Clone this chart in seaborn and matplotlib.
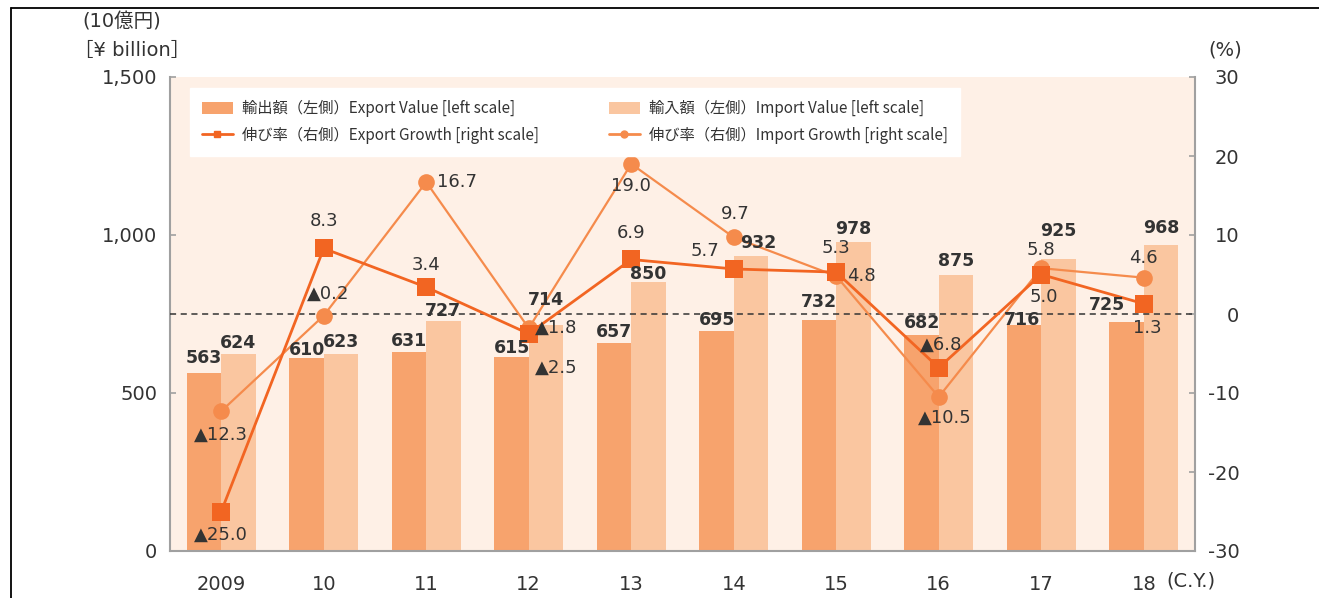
import numpy as np
import pandas as pd
import matplotlib
matplotlib.use('Agg')
import matplotlib.pyplot as plt
from matplotlib.lines import Line2D
from matplotlib.patches import Patch
import seaborn as sns

# data
years = ['2009', '10', '11', '12', '13', '14', '15', '16', '17', '18']
export_value = [563, 610, 631, 615, 657, 695, 732, 682, 716, 725]
import_value = [624, 623, 727, 714, 850, 932, 978, 875, 925, 968]
export_growth = [-25.0, 8.3, 3.4, -2.5, 6.9, 5.7, 5.3, -6.8, 5.0, 1.3]
import_growth = [-12.3, -0.2, 16.7, -1.8, 19.0, 9.7, 4.8, -10.5, 5.8, 4.6]

lbl_exp_val = '輸出額（左側）Export Value [left scale]'
lbl_imp_val = '輸入額（左側）Import Value [left scale]'
lbl_exp_gr = '伸び率（右側）Export Growth [right scale]'
lbl_imp_gr = '伸び率（右側）Import Growth [right scale]'

# label offsets in pixels (dx, dy), as placed in the original
exp_val_offsets = [(0, 15), (0, 8), (0, 11), (0, 9), (0, 11), (0, 11), (0, 18), (0, 12), (-2, 5), (-20, 17)]
imp_val_offsets = [(0, 11), (0, 12), (0, 10), (0, 25), (0, 8), (7, 13), (0, 13), (0, 14), (0, 28), (0, 17)]
exp_offsets = [(0, -23), (0, 27), (0, 22), (28, -34), (0, 26), (-29, 18), (0, 24), (2, 23), (3, -22), (4, -24)]
imp_offsets = [(0, -24), (4, 22), (31, 0), (27, 0), (0, -22), (2, 23), (25, 0), (6, -21), (0, 18), (0, 20)]

C_EXP_BAR = '#F7A36D'
C_IMP_BAR = '#FAC6A0'
C_EXP_LINE = '#F26522'
C_IMP_LINE = '#F58B4C'
C_BG = '#FEF0E6'
C_TXT = '#333333'
C_SPINE = '#A0A0A0'

sns.set_theme(style='white')
plt.rcParams['font.family'] = ['DejaVu Sans', 'Noto Sans CJK JP']
plt.rcParams['text.color'] = C_TXT
plt.rcParams['axes.unicode_minus'] = False

W, H = 1319, 598
fig = plt.figure(figsize=(W / 100, H / 100), dpi=100)
fig.patch.set_facecolor('white')
ax = fig.add_axes([170 / W, 1 - 551 / H, (1195 - 170) / W, (551 - 77) / H])
ax.set_facecolor(C_BG)

df = pd.DataFrame({
    'year': years * 2,
    'kind': ['export'] * len(years) + ['import'] * len(years),
    'value': export_value + import_value,
})
sns.barplot(data=df, x='year', y='value', hue='kind', order=years,
            palette={'export': C_EXP_BAR, 'import': C_IMP_BAR},
            width=0.67, saturation=1, legend=False, linewidth=0, ax=ax)

ax.set_ylim(0, 1500)
ax.set_xlim(-0.5, len(years) - 0.5)
ax.set_yticks([0, 500, 1000, 1500])
ax.set_yticklabels(['0', '500', '1,000', '1,500'])
ax.set_xlabel('')
ax.set_ylabel('')
ax.set_xticks(np.arange(len(years)))
ax.set_xticklabels(years)
ax.set_xticks(np.arange(len(years) + 1) - 0.5, minor=True)
ax.tick_params(axis='x', which='major', length=0, pad=17, labelsize=14, labelcolor=C_TXT)
ax.tick_params(axis='x', which='minor', length=5, width=1.2, direction='out', color=C_SPINE)
ax.tick_params(axis='y', length=4, width=1.2, direction='in', color=C_SPINE, pad=9,
               labelsize=14, labelcolor=C_TXT, left=True)
for s in ['top', 'right']:
    ax.spines[s].set_visible(False)
for s in ['left', 'bottom']:
    ax.spines[s].set_color(C_SPINE)
    ax.spines[s].set_linewidth(1.5)

# growth lines on the right axis
ax2 = ax.twinx()
ax2.set_ylim(-30, 30)
ax2.axhline(0, color='#333333', ls=(0, (4, 3)), lw=1.1, zorder=1)
xpos = np.arange(len(years))
sns.lineplot(x=xpos, y=import_growth, color=C_IMP_LINE, lw=1.6, marker='o', ms=12,
             markeredgewidth=0, ax=ax2, zorder=3)
sns.lineplot(x=xpos, y=export_growth, color=C_EXP_LINE, lw=2.0, marker='s', ms=12.5,
             markeredgewidth=0, ax=ax2, zorder=4)

# bar value labels (drawn on the top axes so they sit above the lines)
for cont, vals, offs in zip(ax.containers, [export_value, import_value], [exp_val_offsets, imp_val_offsets]):
    for bar, v, (dx, dy) in zip(cont, vals, offs):
        ax2.annotate(f'{v:d}', (bar.get_x() + bar.get_width() / 2, bar.get_height()),
                     xycoords=ax.transData, xytext=(dx, dy), textcoords='offset pixels',
                     ha='center', va='center', fontsize=12.5, fontweight='bold', color=C_TXT, zorder=5)


def fmt_growth(v):
    return f'▲{abs(v):.1f}' if v < 0 else f'{v:.1f}'


for vals, offs in [(export_growth, exp_offsets), (import_growth, imp_offsets)]:
    for x, v, (dx, dy) in zip(xpos, vals, offs):
        ax2.annotate(fmt_growth(v), (x, v), xytext=(dx, dy), textcoords='offset pixels',
                     ha='center', va='center', fontsize=13, color=C_TXT, zorder=5)

ax2.set_yticks([-30, -20, -10, 0, 10, 20, 30])
ax2.tick_params(axis='y', length=4, width=1.2, direction='in', color=C_SPINE, pad=32,
                labelsize=14, labelcolor=C_TXT)
for lab in ax2.get_yticklabels():
    lab.set_horizontalalignment('right')
for s in ['top', 'left', 'bottom']:
    ax2.spines[s].set_visible(False)
ax2.spines['right'].set_color(C_SPINE)
ax2.spines['right'].set_linewidth(1.5)
ax2.set_ylabel('')

# legend
handles = [
    Patch(facecolor=C_EXP_BAR, edgecolor='none'),
    Line2D([], [], color=C_EXP_LINE, lw=2, marker='s', ms=5),
    Patch(facecolor=C_IMP_BAR, edgecolor='none'),
    Line2D([], [], color=C_IMP_LINE, lw=2, marker='o', ms=5),
]
labels = [lbl_exp_val, lbl_exp_gr, lbl_imp_val, lbl_imp_gr]
leg = ax2.legend(handles, labels, ncol=2, loc='upper left', bbox_to_anchor=(0.0195, 0.977),
                 borderaxespad=0, frameon=True, fancybox=False, facecolor='white', edgecolor='white',
                 framealpha=1, prop={'family': ['Noto Sans CJK JP'], 'size': 11},
                 handlelength=2.0, handleheight=0.8, handletextpad=0.6, columnspacing=4.6,
                 labelspacing=0.62, borderpad=0.8)
leg.set_zorder(10)
for t in leg.get_texts():
    t.set_color(C_TXT)

# axis unit texts
fig.text(82 / W, 1 - 22 / H, '(10億円)', ha='left', va='center', fontsize=14)
fig.text(74 / W, 1 - 50 / H, '［¥ billion］', ha='left', va='center', fontsize=14)
fig.text(1225 / W, 1 - 50 / H, '(%)', ha='center', va='center', fontsize=14)
fig.text(1166 / W, 1 - 581 / H, '(C.Y.)', ha='left', va='center', fontsize=14)

# outer frame (top and left only)
fig.add_artist(Line2D([11 / W, 1], [1 - 8 / H, 1 - 8 / H], transform=fig.transFigure, color='black', lw=1.3))
fig.add_artist(Line2D([11 / W, 11 / W], [0, 1 - 8 / H], transform=fig.transFigure, color='black', lw=1.3))

fig.savefig('out.png', dpi=100, facecolor='white')
